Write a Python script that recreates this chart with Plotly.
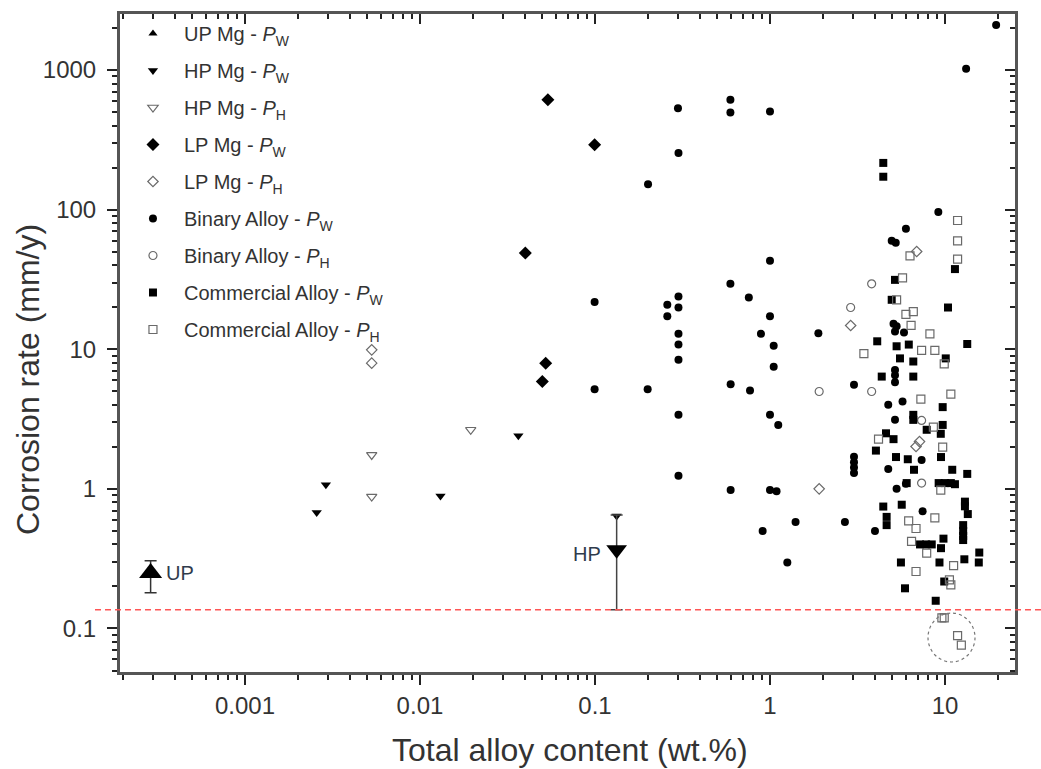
import math
import plotly.graph_objects as go

# ---------------- data ----------------
up_x = [2.89e-4]
up_y = [0.25]
up_err_plus = [0.055]
up_err_minus = [0.07]

hp_mean_x = [0.133]
hp_mean_y = [0.366]
hp_err_plus = [0.284]
hp_err_minus = [0.23]

hp_w_x = [0.00257, 0.0029, 0.0131, 0.0365, 0.133]
hp_w_y = [0.676, 1.07, 0.89, 2.40, 0.64]

hp_h_x = [0.0053, 0.0053, 0.0195]
hp_h_y = [1.75, 0.88, 2.65]

lp_w_x = [0.0538, 0.0995, 0.040, 0.0523, 0.050]
lp_w_y = [612, 291, 48.8, 7.95, 5.87]

lp_h_x = [0.0053, 0.0053, 2.89, 6.89, 6.83, 7.15, 1.91]
lp_h_y = [9.9, 7.95, 14.8, 50.1, 2.01, 2.18, 1.0]

bin_w_x = [0.298, 0.594, 0.594, 1.0, 0.3, 0.201, 1.0, 0.594, 0.757, 0.0995,
           0.3, 0.259, 0.3, 0.259, 1.0, 0.3, 0.888, 0.3, 1.05, 0.3,
           1.05, 0.596, 0.769, 0.0995, 0.2, 0.3, 1.0, 1.115, 0.3, 0.596,
           1.0, 1.09, 1.40, 0.908, 1.256,
           9.16, 5.98, 4.96, 5.23, 1.89, 5.08, 5.29, 5.18, 5.83, 5.18,
           5.18, 5.18, 3.02, 4.74, 5.72, 5.18, 7.35, 3.02, 3.02, 3.02,
           3.02, 4.74, 5.29, 5.98, 2.68, 3.98, 7.45, 13.2, 19.6]
bin_w_y = [533, 612, 496, 504, 254, 152, 43, 29.4, 23.5, 21.8,
           23.9, 20.8, 19.9, 17.2, 17.2, 12.9, 12.9, 10.8, 10.6, 8.4,
           7.5, 5.62, 5.06, 5.18, 5.18, 3.39, 3.39, 2.87, 1.24, 0.98,
           0.98, 0.96, 0.58, 0.50, 0.297,
           96, 72.8, 59.8, 58, 13.0, 15.2, 14.6, 13.4, 13.2, 7.1,
           6.5, 5.8, 5.56, 4.0, 4.22, 3.12, 1.61, 1.70, 1.55, 1.42,
           1.30, 1.39, 1.0, 1.09, 0.58, 0.50, 0.69, 1020, 2100]

bin_h_x = [3.81, 2.89, 1.91, 3.81, 7.35, 7.35]
bin_h_y = [29.4, 19.9, 4.98, 4.98, 3.09, 1.1]

com_w_x = [4.44, 4.44, 11.4, 5.18, 10.4, 4.96, 4.1, 13.4, 5.29, 6.21,
           5.53, 6.59, 10.1, 4.35, 6.59, 9.7, 6.59, 6.59, 7.86, 9.7,
           9.46, 4.6, 5.08, 4.03, 5.25, 6.13, 9.49, 6.65, 11.0, 13.4,
           6.04, 9.2, 10.0, 10.8, 11.4, 4.44, 4.64, 4.64, 5.66, 9.8,
           13.0, 13.0, 13.5, 12.7, 12.7, 12.7, 12.7, 7.2, 7.8, 8.4,
           9.49, 15.7, 15.6, 12.9, 5.6, 9.3, 9.9, 5.91, 8.85]
com_w_y = [216, 172, 37.5, 31.4, 19.9, 22.6, 11.4, 10.9, 10.5, 10.8,
           8.6, 8.17, 8.6, 6.37, 6.37, 3.85, 3.39, 3.12, 2.65, 2.87,
           2.48, 2.5, 2.27, 1.88, 1.69, 1.63, 1.69, 1.37, 1.37, 1.28,
           1.1, 1.1, 1.1, 1.1, 1.08, 0.747, 0.63, 0.55, 0.77, 0.44,
           0.81, 0.75, 0.66, 0.55, 0.50, 0.46, 0.43, 0.40, 0.40, 0.40,
           0.376, 0.35, 0.297, 0.313, 0.297, 0.297, 0.217, 0.194, 0.158]

com_h_x = [11.8, 11.8, 6.31, 11.8, 5.72, 5.29, 5.98, 6.59, 6.4, 8.2,
           3.44, 7.35, 8.75, 9.9, 7.28, 10.8, 8.58, 4.17, 9.7, 9.46,
           8.75, 6.2, 6.83, 6.44, 7.86, 11.2, 6.83, 10.6, 10.8, 9.6,
           9.9, 11.8, 12.4]
com_h_y = [83.6, 59.8, 46.7, 44.2, 32.4, 22.6, 17.8, 18.6, 14.8, 12.9,
           9.3, 9.8, 9.8, 7.86, 4.39, 4.77, 2.77, 2.27, 1.99, 0.98,
           0.62, 0.59, 0.52, 0.42, 0.346, 0.282, 0.256, 0.223, 0.205, 0.119,
           0.119, 0.089, 0.076]

threshold = 0.136

x_tickvals = [0.001, 0.01, 0.1, 1, 10]
x_ticktext = ["0.001", "0.01", "0.1", "1", "10"]
y_tickvals = [0.1, 1, 10, 100, 1000]
y_ticktext = ["0.1", "1", "10", "100", "1000"]

x_range = [-3.714, 1.40]
y_range = [-1.3116, 3.401]

# ---------------- figure ----------------
FONT = "Liberation Sans, Arial, sans-serif"
BLACK = "#000000"
GRAY = "#6a6a6a"
AXC = "#555555"
TXT = "#333333"

fig = go.Figure()


def sub(label, s):
    return f"{label} - <i>P</i><sub>{s}</sub>"


def add(x, y, name, symbol, size, color, lw, legend=True):
    fig.add_trace(go.Scatter(
        x=x, y=y, mode="markers", name=name, legendgroup=name,
        showlegend=legend, cliponaxis=False,
        marker=dict(symbol=symbol, size=size, color=color,
                    line=dict(width=lw, color=color))))


# legend-only entry for UP Mg
add([None], [None], sub("UP Mg", "W"), "triangle-up", 8, BLACK, 0)
add(hp_w_x, hp_w_y, sub("HP Mg", "W"), "triangle-down", 9, BLACK, 0)
add(hp_h_x, hp_h_y, sub("HP Mg", "H"), "triangle-down-open", 9, GRAY, 1.2)
add(lp_w_x, lp_w_y, sub("LP Mg", "W"), "diamond", 10, BLACK, 0)
add(lp_h_x, lp_h_y, sub("LP Mg", "H"), "diamond-open", 8, GRAY, 1.2)
add(bin_w_x, bin_w_y, sub("Binary Alloy", "W"), "circle", 8, BLACK, 0)
add(bin_h_x, bin_h_y, sub("Binary Alloy", "H"), "circle-open", 8, GRAY, 1.2)
add(com_w_x, com_w_y, sub("Commercial Alloy", "W"), "square", 8, BLACK, 0)
add(com_h_x, com_h_y, sub("Commercial Alloy", "H"), "square-open", 8, GRAY, 1.2)

# big UP / HP points with error bars
fig.add_trace(go.Scatter(
    x=up_x, y=up_y, mode="markers", showlegend=False,
    marker=dict(symbol="triangle-up", size=20, color=BLACK),
    error_y=dict(type="data", array=up_err_plus, arrayminus=up_err_minus,
                 color="#333333", thickness=1.5, width=6)))
fig.add_trace(go.Scatter(
    x=hp_mean_x, y=hp_mean_y, mode="markers", showlegend=False,
    marker=dict(symbol="triangle-down", size=18, color=BLACK),
    error_y=dict(type="data", array=hp_err_plus, arrayminus=hp_err_minus,
                 color="#444444", thickness=1.5, width=6)))

# dummy trace so the mirrored (top/right) axes are drawn
fig.add_trace(go.Scatter(x=[None], y=[None], xaxis="x2", yaxis="y2",
                         showlegend=False, hoverinfo="skip"))


def minor_vals(lo, hi):
    vals = []
    for e in range(lo, hi + 1):
        for m in range(2, 10):
            vals.append(m * 10 ** e)
    return vals


x_minor = minor_vals(-4, 1)
y_minor = minor_vals(-2, 3)

common = dict(type="log", showgrid=False, zeroline=False, showline=True,
              linewidth=3, linecolor=AXC, tickwidth=2, tickcolor="#222222")

fig.update_layout(
    width=1041, height=769,
    margin=dict(l=120, r=26, t=14, b=97),
    paper_bgcolor="white", plot_bgcolor="white",
    font=dict(family=FONT, color=TXT),
    showlegend=True,
    xaxis=dict(**common, range=x_range, tickmode="array", tickvals=x_tickvals,
               ticktext=x_ticktext, ticks="outside", ticklen=10,
               ticklabelstandoff=0,
               tickfont=dict(size=24, color=TXT, family=FONT),
               minor=dict(tickmode="array", tickvals=x_minor, ticks="outside",
                          ticklen=5, tickwidth=1.5, tickcolor="#222222",
                          showgrid=False)),
    yaxis=dict(**common, range=y_range, tickmode="array", tickvals=y_tickvals,
               ticktext=y_ticktext, ticks="outside", ticklen=10,
               ticklabelstandoff=6,
               tickfont=dict(size=24, color=TXT, family=FONT),
               minor=dict(tickmode="array", tickvals=y_minor, ticks="outside",
                          ticklen=5, tickwidth=1.5, tickcolor="#222222",
                          showgrid=False)),
    xaxis2=dict(**common, range=x_range, overlaying="x", side="top", anchor="y",
                tickmode="array", tickvals=x_tickvals, ticks="inside",
                ticklen=10, showticklabels=False,
                minor=dict(tickmode="array", tickvals=x_minor, ticks="inside",
                           ticklen=5, tickwidth=1.5, tickcolor="#222222",
                           showgrid=False)),
    yaxis2=dict(**common, range=y_range, overlaying="y", side="right", anchor="x",
                tickmode="array", tickvals=y_tickvals, ticks="inside",
                ticklen=10, showticklabels=False,
                minor=dict(tickmode="array", tickvals=y_minor, ticks="inside",
                           ticklen=5, tickwidth=1.5, tickcolor="#222222",
                           showgrid=False)),
    legend=dict(x=0.0022, y=1.0, xanchor="left", yanchor="top",
                bgcolor="rgba(0,0,0,0)", borderwidth=0,
                font=dict(family=FONT, size=20, color=TXT),
                tracegroupgap=8, itemsizing="trace", itemwidth=52),
)

# axis titles
fig.add_annotation(text="Total alloy content (wt.%)", xref="paper", yref="paper",
                   x=(570 - 120) / 895, y=(672 - 750) / 658, showarrow=False,
                   xanchor="center", yanchor="middle",
                   font=dict(size=32, color=TXT, family=FONT))
fig.add_annotation(text="Corrosion rate (mm/y)", xref="paper", yref="paper",
                   x=(28 - 120) / 895, y=(672 - 380) / 658, showarrow=False,
                   textangle=-90, xanchor="center", yanchor="middle",
                   font=dict(size=32, color=TXT, family=FONT))

# UP / HP labels
fig.add_annotation(text="UP", x=math.log10(up_x[0]), y=math.log10(up_y[0]),
                   xref="x", yref="y", showarrow=False, xanchor="left",
                   xshift=13, font=dict(size=20, color="#2f3b4c", family=FONT))
fig.add_annotation(text="HP", x=math.log10(hp_mean_x[0]), y=math.log10(hp_mean_y[0]),
                   xref="x", yref="y", showarrow=False, xanchor="right",
                   xshift=-14, yshift=-4,
                   font=dict(size=20, color="#2f3b4c", family=FONT))

# red dashed threshold line (paper coordinates computed from the y range)
ty = (math.log10(threshold) - y_range[0]) / (y_range[1] - y_range[0])
fig.add_shape(type="line", xref="paper", yref="paper",
              x0=(95 - 120) / 895, x1=(1041 - 120) / 895, y0=ty, y1=ty,
              line=dict(color="#ff5555", width=1.5, dash="6px,4px"))

# dashed ellipse around the lowest points
fig.add_shape(type="circle", xref="paper", yref="paper",
              x0=(928 - 120) / 895, x1=(975 - 120) / 895,
              y0=(672 - 662) / 658, y1=(672 - 613) / 658,
              line=dict(color="#777777", width=1.2, dash="3px,3px"))

fig.write_html("out.html")
